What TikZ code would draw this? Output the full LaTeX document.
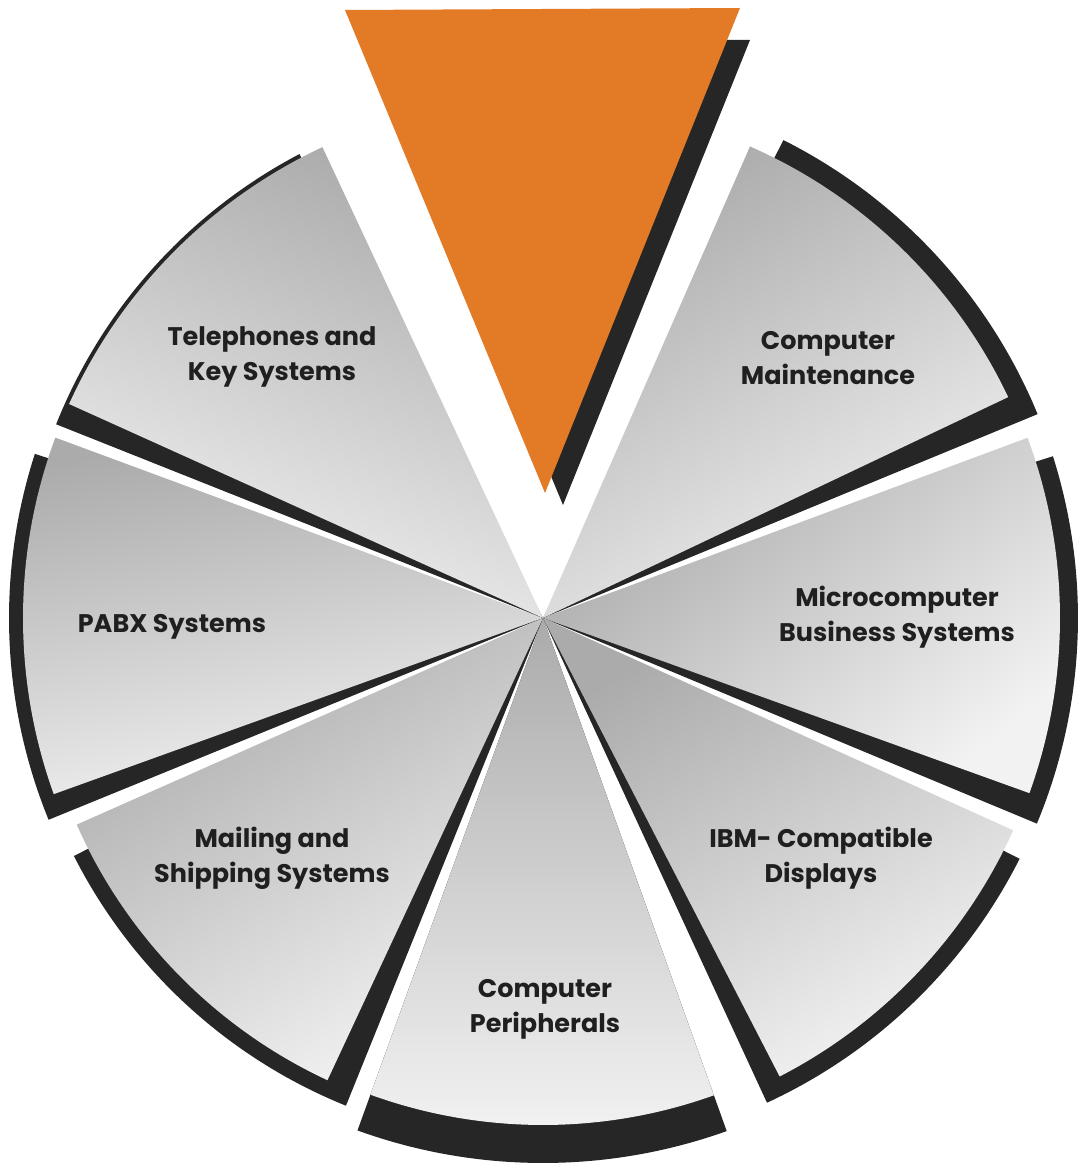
\documentclass[tikz,border=0pt]{standalone}
\usepackage{fontspec}
\setmainfont{Poppins}
\usepackage{tikz}
\usetikzlibrary{calc}

\definecolor{pieorange}{RGB}{226,122,38}
\tikzset{
	slice/.style={top color=black!33, bottom color=black!5},
	sliceshadow/.style={fill=black!85},
	slicelabel/.style={font=\bfseries\fontsize{14.5}{20}\selectfont, text=black!88, align=center}
}

\begin{document}
\begin{tikzpicture}[x=0.02cm, y=0.02cm]
			\newcommand{\PieSlice}[6]{
				\fill [sliceshadow] (0,0) -- ({#1+#4}:#5) arc [start angle={#1+#4}, end angle={#2+#4}, radius=#5] -- cycle;
				\shade [slice, shading angle=#6] (0,0) -- (#1:#3) arc [start angle=#1, end angle=#2, radius=#3] -- cycle;
			}

			\useasboundingbox (-543,-549) rectangle (537,618);

			\fill [sliceshadow] (-173,578) -- (207,578) -- (20,113) -- cycle;
			\fill [pieorange] (-198,608) -- (197,610) -- (2,125) -- cycle;

			\PieSlice{25.4}{66.3}{515}{-3}{535}{30}
			\PieSlice{-19.8}{20.4}{517}{-2.8}{535}{40}
			\PieSlice{-62.7}{-24.3}{516}{-2.5}{534}{30}
			\PieSlice{250.1}{289.7}{507}{0}{545}{0}
			\PieSlice{203.9}{245}{510}{3}{526}{30}
			\PieSlice{159.7}{199.8}{520}{2.4}{534}{10}
			\PieSlice{115.1}{155.7}{520}{2.6}{524}{-20}

			\node (tel) [slicelabel] at (-271,261) {Telephones and\\Key Systems};
			\node (maint) [slicelabel] at (285,260) {Computer\\Maintenance};
			\node (pabx) [slicelabel] at (-371,-9) {PABX Systems};
			\node (micro) [slicelabel] at (354,1) {Microcomputer\\Business Systems};
			\node (mail) [slicelabel] at (-271,-240) {Mailing and\\Shipping Systems};
			\node (ibm) [slicelabel] at (278,-240) {IBM- Compatible\\Displays};
			\node (periph) [slicelabel] at (2,-391) {Computer\\Peripherals};
		\end{tikzpicture}
\end{document}
